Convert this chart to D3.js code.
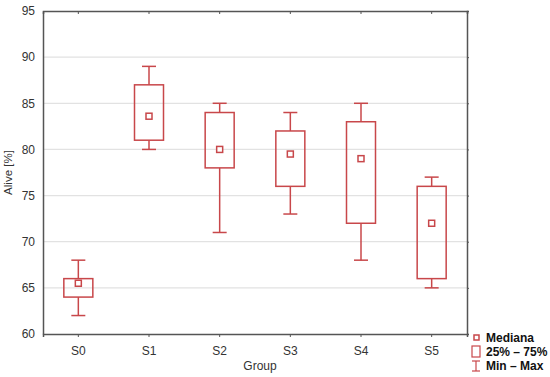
<!DOCTYPE html>
<html>
<head>
<meta charset="utf-8">
<script src="https://cdn.jsdelivr.net/npm/d3@7"></script>
<style>
body { margin: 0; background: #fff; }
svg text { font-family: "Liberation Sans", Arial, sans-serif; }
</style>
</head>
<body>
<div id="chart"></div>
<script>
const groups = ['S0', 'S1', 'S2', 'S3', 'S4', 'S5'];
const mins = [62, 80, 71, 73, 68, 65];
const q1s = [64, 81, 78, 76, 72, 66];
const medians = [65.5, 83.6, 80, 79.5, 79, 72];
const q3s = [66, 87, 84, 82, 83, 76];
const maxs = [68, 89, 85, 84, 85, 77];
const yTicks = [60, 65, 70, 75, 80, 85, 90, 95];

const W = 550, H = 377;
const margin = { top: 11, right: 83, bottom: 43, left: 43 },
	width = W - margin.left - margin.right,
	height = H - margin.top - margin.bottom;

const red = '#c8474a';
const axisCol = '#555';
const labelCol = '#333';

const svg = d3
	.select('#chart')
	.append('svg')
	.attr('width', W)
	.attr('height', H);

const g = svg.append('g').attr('transform', 'translate(' + margin.left + ',' + margin.top + ')');

const x = d3.scaleBand().domain(groups).range([0, width]).padding(0);
const y = d3.scaleLinear().domain([60, 95]).range([height, 0]);

// grid
g.append('g')
	.selectAll('line')
	.data(yTicks.filter(d => d > 60 && d < 95))
	.enter()
	.append('line')
	.attr('x1', 0)
	.attr('x2', width)
	.attr('y1', d => y(d))
	.attr('y2', d => y(d))
	.attr('stroke', '#e2e2e2')
	.attr('stroke-width', 1.2);

// axes
const yAxis = g.append('g').call(d3.axisLeft(y).tickValues(yTicks).tickSize(0).tickPadding(8));
yAxis.select('.domain').attr('stroke', axisCol).attr('stroke-width', 1.5);
yAxis.selectAll('text').attr('fill', labelCol).style('font-size', '12px');

const xAxis = g
	.append('g')
	.attr('transform', 'translate(0,' + height + ')')
	.call(d3.axisBottom(x).tickSize(3).tickPadding(9));
xAxis.select('.domain').attr('stroke', axisCol).attr('stroke-width', 1.5);
xAxis.selectAll('line').attr('stroke', axisCol);
xAxis.selectAll('text').attr('fill', labelCol).style('font-size', '12px');

const xTop = g.append('g').call(d3.axisBottom(x).tickSize(3).tickFormat(''));
xTop.select('.domain').attr('stroke', axisCol).attr('stroke-width', 1.5);
xTop.selectAll('line').attr('stroke', axisCol);

const yRight = g
	.append('g')
	.attr('transform', 'translate(' + width + ',0)')
	.call(d3.axisRight(y).tickValues(yTicks).tickSize(2).tickFormat(''));
yRight.select('.domain').attr('stroke', axisCol).attr('stroke-width', 1.5);
yRight.selectAll('line').attr('stroke', axisCol);

// boxes
const boxW = 29, capW = 14, medS = 6;
const boxes = g
	.append('g')
	.selectAll('g')
	.data(groups)
	.enter()
	.append('g')
	.attr('transform', d => 'translate(' + (x(d) + x.bandwidth() / 2) + ',0)');

boxes.append('line')
	.attr('y1', (d, i) => y(maxs[i]))
	.attr('y2', (d, i) => y(q3s[i]))
	.attr('stroke', red).attr('stroke-width', 1.5);
boxes.append('line')
	.attr('y1', (d, i) => y(q1s[i]))
	.attr('y2', (d, i) => y(mins[i]))
	.attr('stroke', red).attr('stroke-width', 1.5);
boxes.append('line')
	.attr('x1', -capW / 2).attr('x2', capW / 2)
	.attr('y1', (d, i) => y(maxs[i])).attr('y2', (d, i) => y(maxs[i]))
	.attr('stroke', red).attr('stroke-width', 1.5);
boxes.append('line')
	.attr('x1', -capW / 2).attr('x2', capW / 2)
	.attr('y1', (d, i) => y(mins[i])).attr('y2', (d, i) => y(mins[i]))
	.attr('stroke', red).attr('stroke-width', 1.5);
boxes.append('rect')
	.attr('x', -boxW / 2)
	.attr('width', boxW)
	.attr('y', (d, i) => y(q3s[i]))
	.attr('height', (d, i) => y(q1s[i]) - y(q3s[i]))
	.attr('fill', 'none').attr('stroke', red).attr('stroke-width', 1.5);
boxes.append('rect')
	.attr('x', -medS / 2)
	.attr('width', medS)
	.attr('y', (d, i) => y(medians[i]) - medS / 2)
	.attr('height', medS)
	.attr('fill', '#fff').attr('stroke', red).attr('stroke-width', 1.5);

// axis titles
svg.append('text')
	.attr('transform', 'translate(12,' + (margin.top + height / 2) + ') rotate(-90)')
	.attr('text-anchor', 'middle')
	.attr('fill', labelCol)
	.style('font-size', '11.5px')
	.text('Alive [%]');
svg.append('text')
	.attr('x', 260)
	.attr('y', 370)
	.attr('text-anchor', 'middle')
	.attr('fill', labelCol)
	.style('font-size', '12px')
	.text('Group');

// legend
const lg = svg.append('g').attr('transform', 'translate(476,0)');
lg.append('rect').attr('x', -2).attr('y', 335).attr('width', 5).attr('height', 5)
	.attr('fill', '#fff').attr('stroke', red).attr('stroke-width', 1.5);
lg.append('rect').attr('x', -4).attr('y', 346).attr('width', 8).attr('height', 11)
	.attr('fill', '#fff').attr('stroke', red).attr('stroke-width', 1.2);
lg.append('line').attr('x1', 0).attr('x2', 0).attr('y1', 361).attr('y2', 371).attr('stroke', red).attr('stroke-width', 1.2);
lg.append('line').attr('x1', -4).attr('x2', 4).attr('y1', 361).attr('y2', 361).attr('stroke', red).attr('stroke-width', 1.2);
lg.append('line').attr('x1', -4).attr('x2', 4).attr('y1', 371).attr('y2', 371).attr('stroke', red).attr('stroke-width', 1.2);
['Mediana', '25% – 75%', 'Min – Max'].forEach((t, i) => {
	lg.append('text')
		.attr('x', 10)
		.attr('y', 342 + i * 14)
		.attr('fill', '#111')
		.style('font-size', '12px')
		.style('font-weight', 'bold')
		.text(t);
});
</script>
</body>
</html>
